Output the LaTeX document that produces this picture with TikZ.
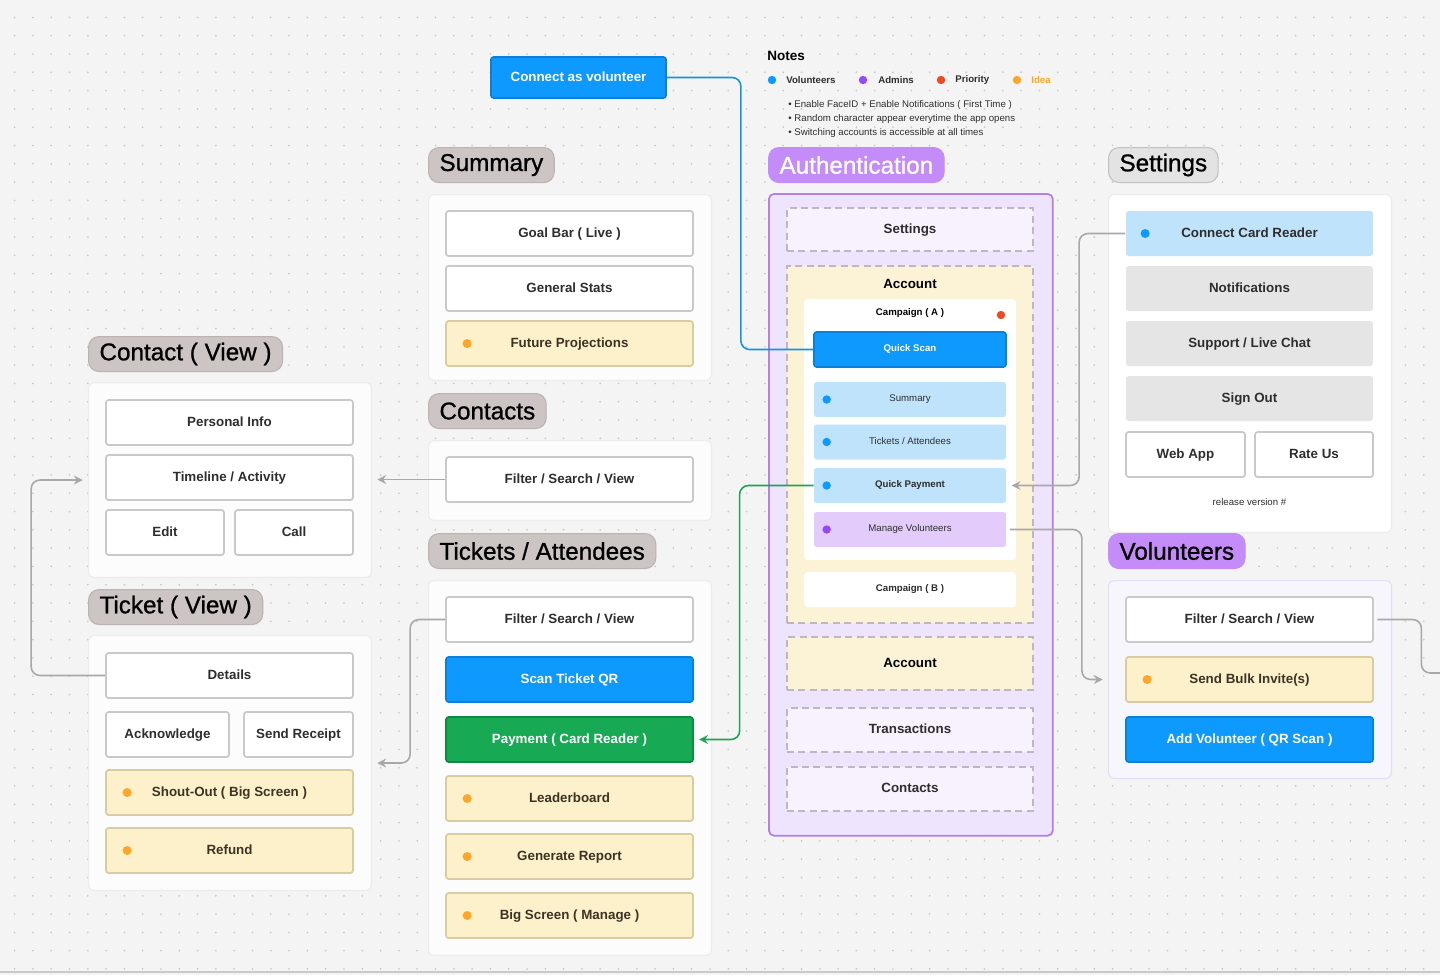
\documentclass[tikz,border=0pt]{standalone}
\usepackage{fontspec}
\setmainfont{Liberation Sans}
\newfontfamily\titlefamily{Liberation Sans}[FakeBold=0.9]
\usepackage{tikz}
\usetikzlibrary{arrows.meta, calc, positioning}
\definecolor{Canvas}     {HTML}{F4F4F4}
\definecolor{GridDot}    {HTML}{CACACA}
\definecolor{Ink}        {HTML}{2E2E2E}
\definecolor{IdeaInk}    {HTML}{3B3422}
\definecolor{BarLine}    {HTML}{C9C9C9}
\definecolor{IdeaFill}   {HTML}{FDF1CC}
\definecolor{IdeaLine}   {HTML}{D8CCA2}
\definecolor{IdeaDot}    {HTML}{FFA629}
\definecolor{Scan}       {HTML}{0D99FF}
\definecolor{ScanLine}   {HTML}{0B80D8}
\definecolor{Pay}        {HTML}{17A954}
\definecolor{PayLine}    {HTML}{108A43}
\definecolor{LightBlue}  {HTML}{BEE3FA}
\definecolor{GreyFill}   {HTML}{E5E5E5}
\definecolor{AdminDot}   {HTML}{9747FF}
\definecolor{AdminFill}  {HTML}{E3CBFC}
\definecolor{PriorityDot}{HTML}{F24822}
\definecolor{AuthPurple} {HTML}{C38CF8}
\definecolor{AuthFill}   {HTML}{EFE4FD}
\definecolor{AuthLine}   {HTML}{B47FE6}
\definecolor{DashFill}   {HTML}{F8F2FE}
\definecolor{DashLine}   {HTML}{BDB7C0}
\definecolor{AcctFill}   {HTML}{FCF3D6}
\definecolor{TitleMauve} {HTML}{CDC4C4}
\definecolor{TitleLine}  {HTML}{BCB2B2}
\definecolor{TitleGrey}  {HTML}{E3E3E3}
\definecolor{PanelFill}  {HTML}{FCFCFC}
\definecolor{PanelLine}  {HTML}{ECECEC}
\definecolor{VolPanel}   {HTML}{F8F6FD}
\definecolor{VolLine}    {HTML}{E4DDF3}
\definecolor{LinkGrey}   {HTML}{A8A8A8}
\definecolor{LinkBlue}   {HTML}{1592E6}
\definecolor{LinkGreen}  {HTML}{1DA458}
\newcommand{\grouptitlefont}{\titlefamily\fontsize{13.8}{16}\selectfont}
\newcommand{\barfont}{\fontsize{7.6}{9}\selectfont\bfseries}
\newcommand{\minifont}{\fontsize{5.5}{6.5}\selectfont}
\newcommand{\notefont}{\fontsize{5.5}{6.5}\selectfont}
\begin{document}
\begin{tikzpicture}[x=0.02cm, y=-0.02cm, font=\barfont,
  bar/.style={rectangle, rounded corners=1.5pt, minimum width=4.94cm, minimum height=0.9cm,
              inner sep=0pt, text height=5.6pt, text depth=1.6pt, line width=1pt, text=Ink},
  plainbar/.style={bar, draw=BarLine, fill=white},
  ideabar/.style={bar, draw=IdeaLine, fill=IdeaFill, text=IdeaInk},
  scanbar/.style={bar, draw=ScanLine, fill=Scan, text=white},
  paybar/.style={bar, draw=PayLine, fill=Pay, text=white},
  greybar/.style={bar, fill=GreyFill},
  lightbar/.style={bar, fill=LightBlue},
  narrow/.style={minimum width=#1},
  panel/.style={rectangle, anchor=north west, inner sep=0pt, rounded corners=3pt,
                fill=PanelFill, draw=PanelLine, line width=0.6pt},
  grouptitle/.style={rectangle, anchor=north west, rounded corners=6pt, inner xsep=0.22cm,
                     minimum height=0.7cm, font=\grouptitlefont, text=black, line width=0.6pt},
  dashbox/.style={rectangle, inner sep=0pt, text height=5.6pt, text depth=1.6pt, minimum width=4.92cm,
                  draw=DashLine, line width=0.9pt, dash pattern=on 4pt off 2.5pt, fill=DashFill, text=Ink},
  minibar/.style={rectangle, rounded corners=1.5pt, minimum width=3.84cm, minimum height=0.7cm,
                  inner sep=0pt, text height=4pt, text depth=1.2pt, font=\minifont, text=Ink},
  legend/.style={anchor=west, inner sep=0pt, font=\notefont\bfseries, text=Ink},
  note/.style={anchor=west, inner sep=0pt, font=\notefont, text=Ink},
  link/.style={draw=LinkGrey, line width=0.9pt, rounded corners=5pt},
  arrowed/.style={-{Stealth[length=5pt, width=5pt]}, shorten >=3pt}]
  \useasboundingbox (0,0) rectangle (1440,975);
  % Canvas with dot grid
  \fill[Canvas] (0,0) rectangle (1440,975);
  \foreach \i in {0,...,78}
    \foreach \j in {0,...,52}
      \fill[GridDot] (14.6+18.3*\i, 17.4+18.3*\j) circle (1);
  \draw[BarLine, line width=0.6pt] (0,972) -- (1440,972);

  % Notes
  \node[anchor=west, inner sep=0pt, font=\fontsize{7.7}{9}\selectfont\bfseries] (notes) at (767,56) {Notes};
  \fill[Scan] (772,80) circle (4.2);
  \node[legend] (lvol) at (786,80) {Volunteers};
  \fill[AdminDot] (863,80) circle (4.2);
  \node[legend] (ladm) at (878,80) {Admins};
  \fill[PriorityDot] (941,80) circle (4.2);
  \node[legend] (lpri) at (955,80) {Priority};
  \fill[IdeaDot] (1017,80) circle (4.2);
  \node[legend, text=IdeaDot] (lidea) at (1031,80) {Idea};
  \node[note] (nb1) at (788,105) {\textbullet\ Enable FaceID + Enable Notifications ( First Time )};
  \node[note] (nb2) at (788,119) {\textbullet\ Random character appear everytime the app opens};
  \node[note] (nb3) at (788,133) {\textbullet\ Switching accounts is accessible at all times};

  \node[scanbar, minimum width=3.5cm, minimum height=0.82cm] (cav) at (578.5,77.5) {Connect as volunteer};

  % Summary
  \node[grouptitle, fill=TitleMauve, draw=TitleLine] (sumtitle) at (428,147) {Summary};
  \node[panel, minimum width=5.66cm, minimum height=3.72cm] (sumbox) at (428,194) {};
  \node[plainbar] (goal) at (569.5,233.5) {Goal Bar ( Live )};
  \node[plainbar] (stats) at (569.5,288.5) {General Stats};
  \node[ideabar] (proj) at (569.5,343.5) {Future Projections};

  % Contacts
  \node[grouptitle, fill=TitleMauve, draw=TitleLine] (contitle) at (428,393) {Contacts};
  \node[panel, minimum width=5.66cm, minimum height=1.6cm] (conbox) at (428,440) {};
  \node[plainbar] (cfsv) at (569.5,479.5) {Filter / Search / View};

  % Tickets / Attendees
  \node[grouptitle, fill=TitleMauve, draw=TitleLine] (tixtitle) at (428,533) {Tickets / Attendees};
  \node[panel, minimum width=5.66cm, minimum height=7.5cm] (tixbox) at (428,580) {};
  \node[plainbar] (tfsv) at (569.5,619.5) {Filter / Search / View};
  \node[scanbar] (stqr) at (569.5,679.5) {Scan Ticket QR};
  \node[paybar] (pay) at (569.5,739.5) {Payment ( Card Reader )};
  \node[ideabar] (lead) at (569.5,798.5) {Leaderboard};
  \node[ideabar] (rep) at (569.5,856.5) {Generate Report};
  \node[ideabar] (big) at (569.5,915.5) {Big Screen ( Manage )};

  % Contact ( View )
  \node[grouptitle, fill=TitleMauve, draw=TitleLine] (cvtitle) at (88,336) {Contact ( View )};
  \node[panel, minimum width=5.66cm, minimum height=3.9cm] (cvbox) at (88,382) {};
  \node[plainbar] (pinfo) at (229.5,422.5) {Personal Info};
  \node[plainbar] (tline) at (229.5,477.5) {Timeline / Activity};
  \node[plainbar, narrow=2.36cm] (edit) at (165,532.5) {Edit};
  \node[plainbar, narrow=2.36cm] (call) at (294,532.5) {Call};

  % Ticket ( View )
  \node[grouptitle, fill=TitleMauve, draw=TitleLine] (tvtitle) at (88,589) {Ticket ( View )};
  \node[panel, minimum width=5.66cm, minimum height=5.1cm] (tvbox) at (88,635) {};
  \node[plainbar] (det) at (229.5,675.5) {Details};
  \node[plainbar, narrow=2.46cm] (ack) at (167.5,734.5) {Acknowledge};
  \node[plainbar, narrow=2.18cm] (rcpt) at (298.5,734.5) {Send Receipt};
  \node[ideabar] (shout) at (229.5,792.5) {Shout-Out ( Big Screen )};
  \node[ideabar] (refund) at (229.5,850.5) {Refund};

  % Authentication
  \node[grouptitle, fill=AuthPurple, draw=AuthPurple, text=white] (authtitle) at (768,147) {Authentication};
  \node[panel, fill=AuthFill, draw=AuthLine, line width=1pt, minimum width=5.68cm, minimum height=12.84cm] (authbox) at (768,193) {};
  \node[dashbox, minimum height=0.86cm] (aset) at (910,229.5) {Settings};
  \node[dashbox, fill=AcctFill, minimum height=7.14cm] (aacct) at (910,444.5) {};
  \node[inner sep=0pt, text=black] (aacctlbl) at (910,284) {Account};
  \node[rectangle, fill=white, rounded corners=2pt, minimum width=4.24cm, minimum height=5.22cm] (campa) at (910,429.5) {};
  \node[inner sep=0pt, font=\minifont\bfseries, text=black] (campalbl) at (910,313) {Campaign ( A )};
  \fill[PriorityDot] (1001,315) circle (4.2);
  \node[minibar, fill=Scan, draw=ScanLine, line width=1pt, text=white, font=\minifont\bfseries] (qs) at (910,349.5) {Quick Scan};
  \node[minibar, fill=LightBlue] (asum) at (910,399.5) {Summary};
  \node[minibar, fill=LightBlue] (atix) at (910,442) {Tickets / Attendees};
  \node[minibar, fill=LightBlue, font=\minifont\bfseries] (qp) at (910,485.5) {Quick Payment};
  \node[minibar, fill=AdminFill] (mv) at (910,529.5) {Manage Volunteers};
  \foreach \n in {asum, atix, qp} \fill[Scan] ($(\n.west)+(13,0)$) circle (4.2);
  \fill[AdminDot] ($(mv.west)+(13,0)$) circle (4.2);
  \node[minibar, fill=white, rounded corners=2pt, minimum width=4.24cm,
        font=\minifont\bfseries] (campb) at (910,589.5) {Campaign ( B )};
  \node[dashbox, fill=AcctFill, minimum height=1.06cm, text=black] (aacct2) at (910,663.5) {Account};
  \node[dashbox, minimum height=0.88cm] (atrans) at (910,730) {Transactions};
  \node[dashbox, minimum height=0.88cm] (acont) at (910,789) {Contacts};

  % Settings
  \node[grouptitle, fill=TitleGrey, draw=TitleGrey!85!black] (settitle) at (1108,147) {Settings};
  \node[panel, fill=white, minimum width=5.66cm, minimum height=6.76cm] (setbox) at (1108,194) {};
  \node[lightbar] (ccr) at (1249.5,233.5) {Connect Card Reader};
  \node[greybar] (notif) at (1249.5,288.5) {Notifications};
  \node[greybar] (chat) at (1249.5,343.5) {Support / Live Chat};
  \node[greybar] (signout) at (1249.5,398.5) {Sign Out};
  \node[plainbar, narrow=2.38cm] (web) at (1185.5,454.5) {Web App};
  \node[plainbar, narrow=2.36cm] (rate) at (1314,454.5) {Rate Us};
  \node[inner sep=0pt, font=\notefont, text=Ink] (rel) at (1249.5,502) {release version \#};
  \fill[Scan] ($(ccr.west)+(20,0)$) circle (4.5);

  % Volunteers
  \node[grouptitle, fill=AuthPurple, draw=AuthPurple] (voltitle) at (1108,533) {Volunteers};
  \node[panel, fill=VolPanel, draw=VolLine, minimum width=5.66cm, minimum height=3.96cm] (volbox) at (1108,580) {};
  \node[plainbar] (vfsv) at (1249.5,619.5) {Filter / Search / View};
  \node[ideabar] (bulk) at (1249.5,679.5) {Send Bulk Invite(s)};
  \node[scanbar] (addvol) at (1249.5,739.5) {Add Volunteer ( QR Scan )};

  % Idea dots
  \foreach \n in {proj, lead, rep, big, shout, refund, bulk}
    \fill[IdeaDot] ($(\n.west)+(22,0)$) circle (4.5);

  % Connectors
  \coordinate (offright) at (1442,673);
  \draw[link, draw=LinkBlue] (cav.east) -- ++(74,0) |- (qs.west);
  \draw[link, draw=LinkGreen, arrowed] (qp.west) -- ++(-74,0) |- (pay.east);
  \draw[link, arrowed] (ccr.west) -- ++(-46,0) |- (qp.east);
  \draw[link, arrowed] ([xshift=2pt]mv.east) -- ++(72,0) |- (volbox.west);
  \draw[link] ([xshift=2pt]vfsv.east) -- ++(44,0) |- (offright);
  \draw[link, arrowed] (cfsv.west) -- (cfsv.west -| cvbox.east);
  \draw[link, arrowed] (tfsv.west) -- ++(-35,0) |- (tvbox.east);
  \draw[link, arrowed] (det.west) -- ++(-74,0) |- (cvbox.west);
\end{tikzpicture}
\end{document}
